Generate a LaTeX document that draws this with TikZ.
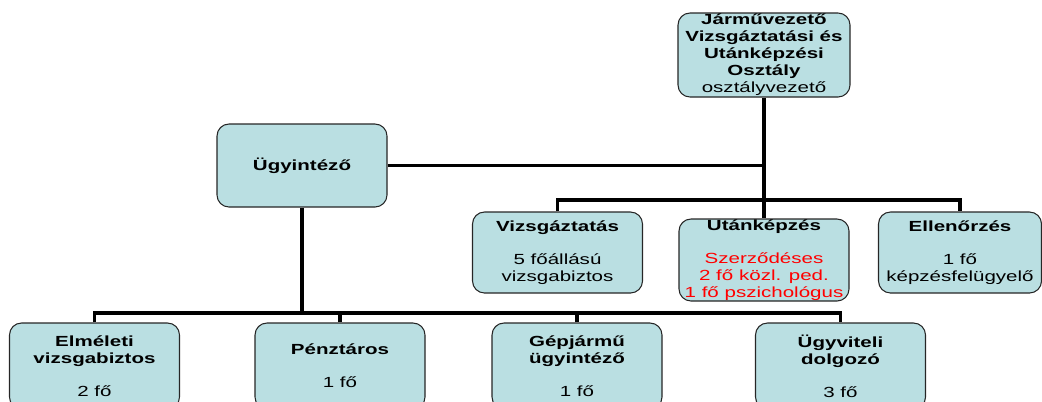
\documentclass[tikz,border=0pt]{standalone}
\usepackage{fontspec}
\setmainfont{Liberation Sans}[FakeStretch=1.4]
\definecolor{boxfill}{RGB}{186,223,226}

\begin{document}
\begin{tikzpicture}[x=0.75pt,y=-0.75pt,
  unit/.style={draw=black!85, line width=0.8pt, fill=boxfill, rounded corners=9pt,
    minimum width=127.5pt, minimum height=62.25pt, inner sep=0pt, align=center,
    font=\fontsize{11}{12.75}\selectfont},
  link/.style={line width=2.4pt}]
\clip (0,0) rectangle (1042,401);
\useasboundingbox (0,0) rectangle (1042,401);

% head of the department
\node (osztaly) [unit, minimum width=129pt, minimum height=63pt] at (764,55)
  {\textbf{Járművezető}\\\textbf{Vizsgáztatási és}\\\textbf{Utánképzési}\\\textbf{Osztály}\\osztályvezető};
\node (ugyintezo) [unit] at (302,165.5) {\textbf{Ügyintéző}};

% groups
\node (vizsga) [unit, minimum height=60.75pt] at (557.5,252.5)
  {\textbf{Vizsgáztatás}\\[12pt]5 főállású\\vizsgabiztos};
\node (utan) [unit, minimum height=61.5pt] at (764,260)
  {\textbf{Utánképzés}\\[12pt]\textcolor{red}{Szerződéses}\\\textcolor{red}{2 fő közl. ped.}\\\textcolor{red}{1 fő pszichológus}};
\node (ellen) [unit, minimum width=122.25pt, minimum height=60.75pt] at (960,252.5)
  {\textbf{Ellenőrzés}\\[12pt]1 fő\\képzésfelügyelő};

% staff
\node (elmeleti) [unit, minimum height=64.5pt] at (94.5,366)
  {\textbf{Elméleti}\\\textbf{vizsgabiztos}\\[12pt]2 fő};
\node (penztaros) [unit, minimum height=64.5pt] at (340,366)
  {\textbf{Pénztáros}\\[12pt]1 fő};
\node (gepjarmu) [unit, minimum height=64.5pt] at (577,366)
  {\textbf{Gépjármű}\\\textbf{ügyintéző}\\[12pt]1 fő};
\node (ugyviteli) [unit, minimum height=64.5pt] at (840.5,366)
  {\textbf{Ügyviteli}\\\textbf{dolgozó}\\[12pt]3 fő};

\coordinate (topbar) at (764,200);
\coordinate (lowbar) at (302,313);

\draw [link] (osztaly.south) -- (utan.north);
\draw [link] (ugyintezo.east) -- (ugyintezo.east -| osztaly.south);
\draw [link] (vizsga.north) |- (topbar) -| (ellen.north);
\draw [link] (ugyintezo.south) -- (lowbar);
\draw [link] (elmeleti.north) |- (lowbar) -| (ugyviteli.north);
\draw [link] (penztaros.north) -- (penztaros.north |- lowbar);
\draw [link] (gepjarmu.north) -- (gepjarmu.north |- lowbar);
\end{tikzpicture}
\end{document}
